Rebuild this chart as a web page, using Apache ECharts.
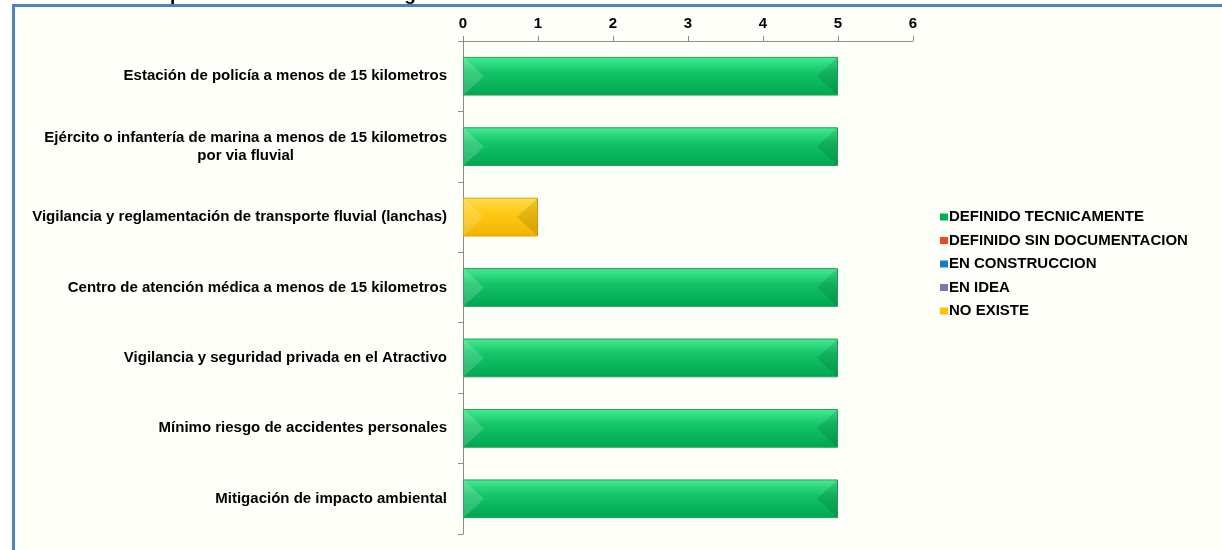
<!DOCTYPE html>
<html>
<head>
<meta charset="utf-8">
<script src="https://cdn.jsdelivr.net/npm/echarts@6/dist/echarts.min.js"></script>
<style>
  html, body { margin: 0; padding: 0; background: #ffffff; }
  #chart { width: 1222px; height: 550px; }
</style>
</head>
<body>
<div id="chart"></div>
<script>
// Aspects evaluated, listed top to bottom
const categories = [
  'Estación de policía a menos de 15 kilometros',
  'Ejército o infantería de marina a menos de 15 kilometros\npor via fluvial',
  'Vigilancia y reglamentación de transporte fluvial (lanchas)',
  'Centro de atención médica a menos de 15 kilometros',
  'Vigilancia y seguridad privada en el Atractivo',
  'Mínimo riesgo de accidentes personales',
  'Mitigación de impacto ambiental'
];

// Status series (one value per aspect)
const definidoTecnicamente     = [5, 5, 0, 5, 5, 5, 5];
const definidoSinDocumentacion = [0, 0, 0, 0, 0, 0, 0];
const enConstruccion           = [0, 0, 0, 0, 0, 0, 0];
const enIdea                   = [0, 0, 0, 0, 0, 0, 0];
const noExiste                 = [0, 0, 1, 0, 0, 0, 0];

const xTicks = [0, 1, 2, 3, 4, 5, 6];

const FONT = '"Liberation Sans", Arial, sans-serif';

function bevel(top, mid, bottom, border) {
  return {
    color: new echarts.graphic.LinearGradient(0, 0, 0, 1, [
      { offset: 0, color: top },
      { offset: 0.4, color: mid },
      { offset: 1, color: bottom }
    ]),
    borderColor: border,
    borderWidth: 1
  };
}

const seriesDefs = [
  { name: 'DEFINIDO TECNICAMENTE', data: definidoTecnicamente, legend: '#00b050',
    style: bevel('#45ec92', '#14c468', '#00a650', '#2a9c5c') },
  { name: 'DEFINIDO SIN DOCUMENTACION', data: definidoSinDocumentacion, legend: '#f04a1a',
    style: bevel('#ff7a50', '#f04a1a', '#c83a10', '#b03010') },
  { name: 'EN CONSTRUCCION', data: enConstruccion, legend: '#1a78c8',
    style: bevel('#5aa8f0', '#1a78c8', '#105ca0', '#105090') },
  { name: 'EN IDEA', data: enIdea, legend: '#8a6fb0',
    style: bevel('#b09ad0', '#8a6fb0', '#6a5090', '#604880') },
  { name: 'NO EXISTE', data: noExiste, legend: '#ffc000',
    style: bevel('#ffdc50', '#ffc814', '#f0b400', '#d8a000') }
];

// Stacked segments [category, start, end] used for the bevelled end caps
const segments = [];
categories.forEach((c, i) => {
  let acc = 0;
  seriesDefs.forEach(s => {
    const v = s.data[i];
    if (v > 0) segments.push([i, acc, acc + v]);
    acc += v;
  });
});

const chart = echarts.init(document.getElementById('chart'), null, { renderer: 'canvas' });

chart.setOption({
  backgroundColor: '#ffffff',
  animation: false,
  color: seriesDefs.map(s => s.legend),
  graphic: [
    {
      type: 'text',
      x: 474, y: 4,
      style: {
        text: 'Aspectos evaluados en la seguridad',
        font: 'bold 19px ' + FONT,
        fill: '#000',
        align: 'right',
        verticalAlign: 'bottom'
      },
      z: -20
    },
    {
      type: 'rect',
      shape: { x: 13.5, y: 5.5, width: 1222, height: 560 },
      style: { fill: '#fffffa', stroke: '#4f81bd', lineWidth: 3 },
      z: -10
    }
  ],
  legend: {
    orient: 'vertical',
    left: 935,
    top: 203,
    itemWidth: 8,
    itemHeight: 7,
    itemGap: 5.5,
    icon: 'rect',
    textStyle: {
      fontFamily: FONT, fontSize: 15, fontWeight: 'bold', color: '#000',
      lineHeight: 18, padding: [0, 0, 0, -4]
    },
    data: seriesDefs.map(s => ({ name: s.name, itemStyle: { color: s.legend, borderWidth: 0 } }))
  },
  grid: { left: 463, top: 41, right: 309, bottom: 16, containLabel: false },
  xAxis: {
    type: 'value',
    position: 'top',
    min: 0, max: 6, interval: 1,
    splitLine: { show: false },
    axisLine: { show: true, lineStyle: { color: '#8c8c8c', width: 1 } },
    axisTick: { show: true, length: 5, lineStyle: { color: '#8c8c8c' } },
    axisLabel: {
      margin: 10,
      fontFamily: FONT, fontSize: 15, fontWeight: 'bold', color: '#000',
      formatter: v => (xTicks.indexOf(v) >= 0 ? String(v) : '')
    }
  },
  yAxis: {
    type: 'category',
    inverse: true,
    data: categories,
    axisLine: { show: true, lineStyle: { color: '#8c8c8c', width: 1 } },
    axisTick: { show: true, length: 5, lineStyle: { color: '#8c8c8c' } },
    axisLabel: {
      margin: 16,
      color: '#000',
      formatter: v => v.split('\n').map(l => '{c|' + l + '}').join('\n'),
      rich: {
        c: { fontFamily: FONT, fontSize: 15, fontWeight: 'bold', color: '#000', align: 'center', lineHeight: 18 }
      }
    }
  },
  series: seriesDefs.map(s => ({
    name: s.name,
    type: 'bar',
    stack: 'total',
    barWidth: '55%',
    // zero entries carry no bar
    data: s.data.map(v => (v === 0 ? '-' : v)),
    itemStyle: s.style
  })).concat([{
    type: 'custom',
    name: 'bevel',
    silent: true,
    z: 3,
    data: segments,
    renderItem: (params, api) => {
      const cat = api.value(0);
      const p0 = api.coord([api.value(1), cat]);
      const p1 = api.coord([api.value(2), cat]);
      const h = api.size([0, 1])[1] * 0.55;
      const y0 = p0[1] - h / 2, y1 = p0[1] + h / 2;
      const d = Math.min(21, (p1[0] - p0[0]) / 3);
      return {
        type: 'group',
        children: [
          {
            type: 'polygon',
            shape: { points: [[p0[0] + 0.5, y0 + 0.5], [p0[0] + d, p0[1]], [p0[0] + 0.5, y1 - 0.5]] },
            style: { fill: 'rgba(255,255,255,0.16)' }
          },
          {
            type: 'polygon',
            shape: { points: [[p1[0] - 0.5, y0 + 0.5], [p1[0] - d, p0[1]], [p1[0] - 0.5, y1 - 0.5]] },
            style: { fill: 'rgba(0,0,0,0.10)' }
          }
        ]
      };
    }
  }])
});
</script>
</body>
</html>
